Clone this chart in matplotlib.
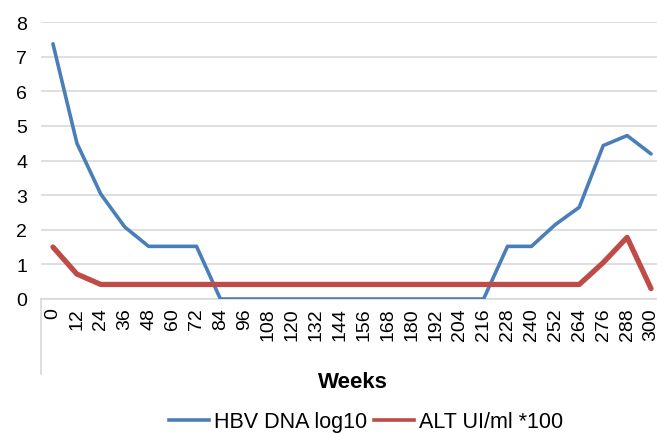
import numpy as np
import matplotlib.pyplot as plt
from matplotlib.lines import Line2D

plt.rcParams['font.family'] = ['Liberation Sans', 'DejaVu Sans']

# weeks (every 12 weeks, 0..300)
weeks = [0, 12, 24, 36, 48, 60, 72, 84, 96, 108, 120, 132, 144, 156, 168,
         180, 192, 204, 216, 228, 240, 252, 264, 276, 288, 300]
hbv_dna = [7.37, 4.5, 3.03, 2.08, 1.52, 1.52, 1.52, 0, 0, 0, 0, 0, 0, 0, 0,
           0, 0, 0, 0, 1.52, 1.52, 2.15, 2.65, 4.43, 4.72, 4.19]
alt = [1.5, 0.72, 0.42, 0.42, 0.42, 0.42, 0.42, 0.42, 0.42, 0.42, 0.42, 0.42,
       0.42, 0.42, 0.42, 0.42, 0.42, 0.42, 0.42, 0.42, 0.42, 0.42, 0.42,
       1.05, 1.78, 0.3]

blue = '#4A7EBB'
red = '#BE4B48'

fig = plt.figure(figsize=(6.57, 4.35), dpi=100)
ax = fig.add_axes([41 / 657, 135 / 435, 622 / 657, 277 / 435])

ax.plot(weeks, hbv_dna, color=blue, lw=2.6, zorder=3, solid_capstyle='round')
ax.plot(weeks, alt, color=red, lw=3.8, zorder=4, solid_capstyle='round')

ax.set_xlim(-6, 306)
ax.set_ylim(0, 8)
ax.set_xticks(weeks)
ax.set_xticklabels([str(w) for w in weeks], rotation=90, fontsize=14)
ax.set_yticks(range(0, 9))
ax.tick_params(axis='y', labelsize=14, length=0, pad=10)
ax.tick_params(axis='x', length=0, pad=6)

ax.grid(axis='y', color='#D9D9D9', lw=1.2)
ax.set_axisbelow(True)
for s in ['top', 'right', 'left']:
    ax.spines[s].set_visible(False)
ax.spines['bottom'].set_color('#D9D9D9')
ax.spines['bottom'].set_linewidth(1.2)

# grey line left of the category labels
ax.add_line(Line2D([0, 0], [0, -75 / 277], transform=ax.transAxes,
                   color='#D9D9D9', lw=1.2, clip_on=False))

fig.text(353 / 657, 1 - 383 / 435, 'Weeks', fontsize=16, fontweight='bold',
         ha='center', va='center')

handles = [Line2D([], [], color=blue, lw=2.6), Line2D([], [], color=red, lw=2.6)]
fig.legend(handles, ['HBV DNA log10', 'ALT UI/ml *100'], loc='center',
           bbox_to_anchor=(366 / 657, 1 - 423 / 435), ncol=2, frameon=False,
           fontsize=15.5, handlelength=1.85, handletextpad=0.25,
           columnspacing=0.3, borderpad=0, borderaxespad=0)

fig.savefig('out.png', dpi=100)
